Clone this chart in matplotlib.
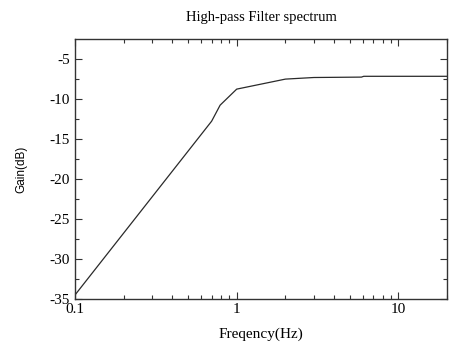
import matplotlib
matplotlib.use("Agg")
import matplotlib.pyplot as plt
from matplotlib.ticker import MultipleLocator, LogLocator, FixedLocator, FixedFormatter, NullFormatter

plt.rcParams["axes.unicode_minus"] = False

# === DATA ===
freq = [0.1, 0.70, 0.79, 1.0, 2.0, 3.0, 5.9, 6.1, 20.0]
gain = [-34.5, -12.8, -10.8, -8.8, -7.55, -7.35, -7.3, -7.2, -7.2]

xticks = [0.1, 1, 10]
xtick_labels = ["0.1", "1", "10"]
yticks = [-35, -30, -25, -20, -15, -10, -5]

serif = "Liberation Serif"

fig = plt.figure(figsize=(4.54, 3.49), dpi=100)
ax = fig.add_axes([0.165, 0.143, 0.82, 0.744])

ax.plot(freq, gain, color="#2a2a2a", lw=0.9)
ax.set_xscale("log")
ax.set_xlim(0.1, 20)
ax.set_ylim(-35, -2.6)

ax.xaxis.set_major_locator(FixedLocator(xticks))
ax.xaxis.set_major_formatter(FixedFormatter(xtick_labels))
ax.xaxis.set_minor_locator(LogLocator(base=10, subs=range(2, 10)))
ax.xaxis.set_minor_formatter(NullFormatter())
ax.yaxis.set_major_locator(FixedLocator(yticks))
ax.yaxis.set_minor_locator(MultipleLocator(2.5))

ax.tick_params(which="both", direction="in", top=True, right=True, width=0.8, color="#333333")
ax.tick_params(which="major", length=5, labelsize=11)
ax.tick_params(which="minor", length=3)
ax.tick_params(axis="x", pad=3)
for lbl in ax.get_xticklabels() + ax.get_yticklabels():
    lbl.set_fontfamily(serif)

for s in ax.spines.values():
    s.set_linewidth(1.0)
    s.set_color("#333333")

ax.set_title("High-pass Filter spectrum", fontfamily=serif, fontsize=10.5, pad=13)
ax.set_xlabel("Freqency(Hz)", fontfamily=serif, fontsize=11, labelpad=8)
ax.set_ylabel("Gain(dB)", fontfamily="Liberation Sans", fontsize=8.5, labelpad=16)

fig.savefig("out.png", dpi=100)
